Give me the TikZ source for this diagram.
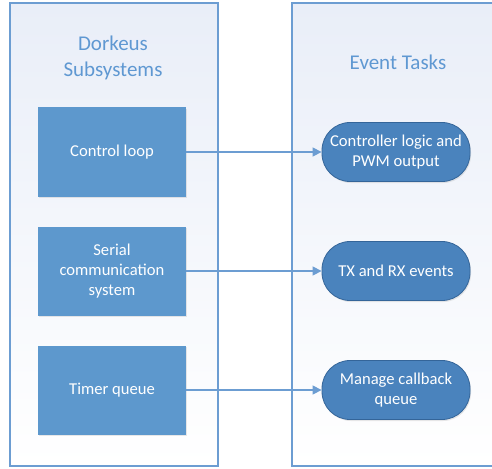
\documentclass[tikz,border=0pt]{standalone}
\usepackage{fontspec}
\setmainfont{Carlito}
\usetikzlibrary{positioning,arrows.meta,shadows}
\definecolor{panelline}{RGB}{108,157,210}
\definecolor{paneltop}{RGB}{233,238,248}
\definecolor{boxblue}{RGB}{93,152,205}
\definecolor{taskblue}{RGB}{74,131,189}
\definecolor{taskline}{RGB}{52,101,153}
\definecolor{titleblue}{RGB}{95,152,210}

\begin{document}
\begin{tikzpicture}[x=1pt, y=-1pt, font=\fontsize{16.6}{20}\selectfont,
    >={Triangle[length=9pt, width=9pt]},
    panel/.style={draw=panelline, line width=1.2pt, top color=paneltop, bottom color=white},
    sysbox/.style={fill=boxblue, text=white, minimum width=148pt, minimum height=89pt,
                   align=center, drop shadow={opacity=0.18, shadow xshift=1pt, shadow yshift=-1.5pt}},
    task/.style={draw=taskline, fill=taskblue, text=white, rounded corners=28pt, line width=0.8pt,
                 minimum width=148pt, minimum height=59pt, align=center,
                 drop shadow={opacity=0.18, shadow xshift=1pt, shadow yshift=-1.5pt}},
    title/.style={text=titleblue, font=\fontsize{21}{26}\selectfont, align=center},
    link/.style={->, draw=panelline, line width=1.3pt}]
  \useasboundingbox (0,0) rectangle (492,468);
  \fill[white] (0,0) rectangle (492,468);
  \draw[panel] (10,3) rectangle (218,466);
  \draw[panel] (292,3) rectangle (500,466);
  \node[title] (subsys) at (113,58) {Dorkeus\\ Subsystems};
  \node[title] (events) at (398,62) {Event Tasks};
  \node[sysbox] (control) at (112,152) {Control loop};
  \node[sysbox] (serial)  at (112,271) {Serial\\ communication\\ system};
  \node[sysbox] (timer)   at (112,390) {Timer queue};
  \node[task] (pwm)     at (396,152) {Controller logic and\\ PWM output};
  \node[task] (txrx)    at (396,271) {TX and RX events};
  \node[task] (callback) at (396,390) {Manage callback\\ queue};
  \draw[link] (control) -- (pwm);
  \draw[link] (serial) -- (txrx);
  \draw[link] (timer) -- (callback);
\end{tikzpicture}
\end{document}
